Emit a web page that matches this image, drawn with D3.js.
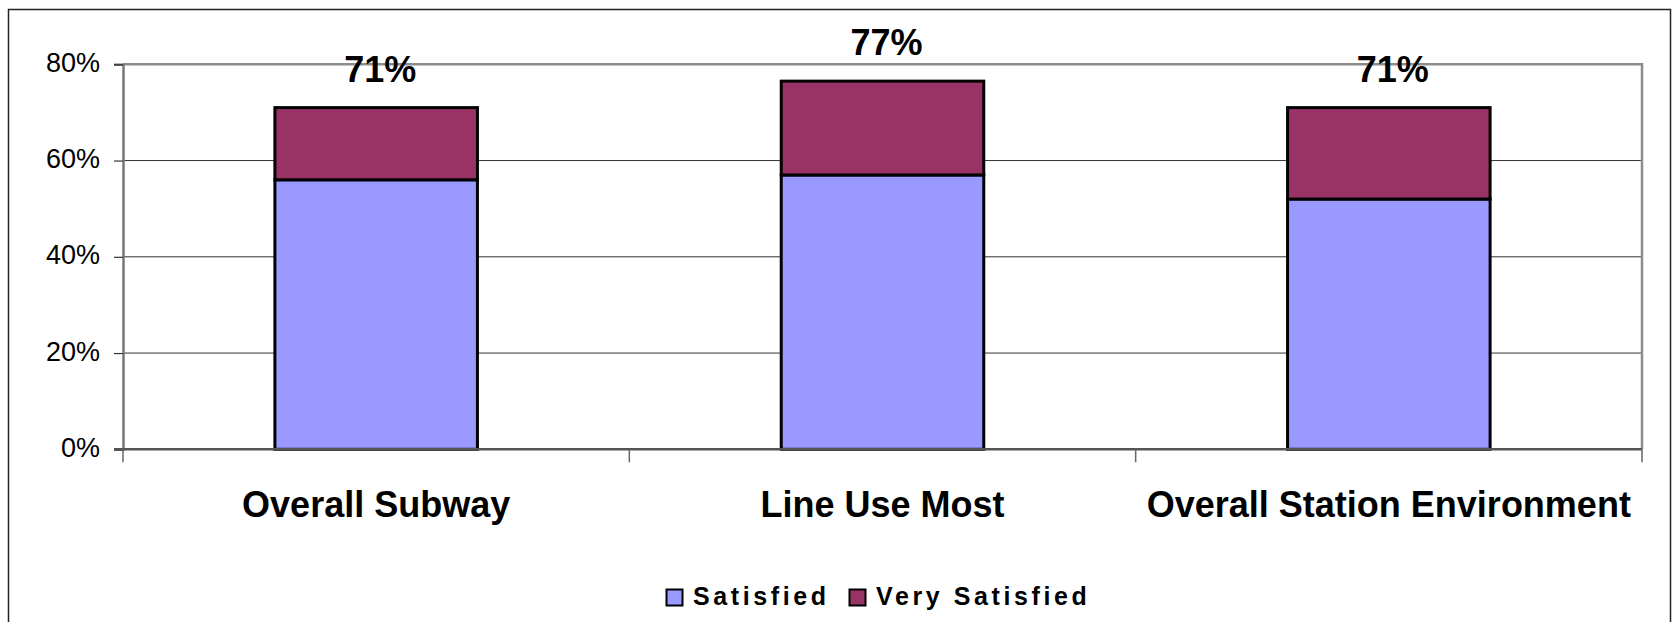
<!DOCTYPE html>
<html>
<head>
<meta charset="utf-8">
<script src="https://cdn.jsdelivr.net/npm/d3@7"></script>
<style>
  html, body { margin: 0; padding: 0; background: #fff; }
  svg { display: block; font-family: "Liberation Sans", Arial, sans-serif; }
</style>
</head>
<body>
<svg id="chart" width="1672" height="622"></svg>
<script>
// Survey results: share of riders satisfied / very satisfied (%)
const categories = ["Overall Subway", "Line Use Most", "Overall Station Environment"];
const satisfied = [56, 57, 52];
const verySatisfied = [15, 19.5, 19];
const yTicks = [0, 20, 40, 60, 80];
const seriesNames = ["Satisfied", "Very Satisfied"];
const seriesColors = ["#9999FF", "#993366"];

const svg = d3.select("#chart");

// outer chart frame (runs past the bottom edge)
svg.append("rect")
  .attr("x", 8.5).attr("y", 9.5)
  .attr("width", 1662).attr("height", 640)
  .attr("fill", "#fff").attr("stroke", "#222").attr("stroke-width", 1.5);

const plot = { left: 123, right: 1642, top: 64.3, bottom: 449.3 };

const x = d3.scaleBand()
  .domain(categories)
  .range([plot.left, plot.right])
  .paddingInner(0.6)
  .paddingOuter(0.3);

const y = d3.scaleLinear()
  .domain([0, 80])
  .range([plot.bottom, plot.top]);

// horizontal gridlines
svg.append("g")
  .selectAll("line")
  .data(yTicks.filter(d => d > 0 && d < 80))
  .join("line")
  .attr("x1", plot.left).attr("x2", plot.right)
  .attr("y1", d => y(d)).attr("y2", d => y(d))
  .attr("stroke", "#333").attr("stroke-width", 1);

// plot area border (top + right) in grey
svg.append("path")
  .attr("d", `M${plot.left},${y(80)}H${plot.right}V${plot.bottom}`)
  .attr("fill", "none").attr("stroke", "#8c8c8c").attr("stroke-width", 2.5);

// stacked bars
const stacks = categories.map((c, i) => ({
  cat: c,
  parts: [
    { key: 0, y0: 0, y1: satisfied[i] },
    { key: 1, y0: satisfied[i], y1: satisfied[i] + verySatisfied[i] }
  ],
  total: satisfied[i] + verySatisfied[i]
}));

const barG = svg.append("g");
stacks.forEach(s => {
  barG.selectAll(null)
    .data(s.parts)
    .join("rect")
    .attr("x", x(s.cat))
    .attr("width", x.bandwidth())
    .attr("y", d => y(d.y1))
    .attr("height", d => y(d.y0) - y(d.y1))
    .attr("fill", d => seriesColors[d.key])
    .attr("stroke", "#000")
    .attr("stroke-width", 3);
});

// y axis
const yAxis = d3.axisLeft(y)
  .tickValues(yTicks)
  .tickFormat(d => d + "%")
  .tickSize(9)
  .tickPadding(14);
const yG = svg.append("g")
  .attr("transform", `translate(${plot.left},0)`)
  .call(yAxis);
yG.select(".domain").attr("stroke", "#777").attr("stroke-width", 2.5);
yG.selectAll(".tick line").attr("stroke", "#333").attr("stroke-width", 1.2);
yG.selectAll(".tick text")
  .attr("fill", "#000")
  .attr("font-size", 27)
  .attr("dy", null)
  .attr("y", 7);

// x axis (category separators as ticks)
const xAxisLine = svg.append("g");
xAxisLine.append("line")
  .attr("x1", plot.left - 9).attr("x2", plot.right)
  .attr("y1", plot.bottom).attr("y2", plot.bottom)
  .attr("stroke", "#555").attr("stroke-width", 2.5);
const step = x.step();
const sepX = d3.range(categories.length + 1).map(i => plot.left + i * step);
xAxisLine.selectAll("line.sep")
  .data(sepX)
  .join("line")
  .attr("class", "sep")
  .attr("x1", d => d).attr("x2", d => d)
  .attr("y1", plot.bottom).attr("y2", plot.bottom + 13)
  .attr("stroke", "#666").attr("stroke-width", 1.5);

// category labels
svg.append("g")
  .selectAll("text")
  .data(categories)
  .join("text")
  .attr("x", d => x(d) + x.bandwidth() / 2)
  .attr("y", 517)
  .attr("text-anchor", "middle")
  .attr("font-size", 36)
  .attr("font-weight", "bold")
  .text(d => d);

// total labels above each bar
svg.append("g")
  .selectAll("text")
  .data(stacks)
  .join("text")
  .attr("x", d => x(d.cat) + x.bandwidth() / 2 + 4)
  .attr("y", d => y(d.total) - 26)
  .attr("text-anchor", "middle")
  .attr("font-size", 36)
  .attr("font-weight", "bold")
  .text(d => Math.round(d.total) + "%");

// legend
const legend = svg.append("g").attr("transform", "translate(666,589)");
const legendX = [0, 183];
seriesNames.forEach((name, i) => {
  const g = legend.append("g").attr("transform", `translate(${legendX[i]},0)`);
  g.append("rect")
    .attr("x", 0.5).attr("y", 0.5)
    .attr("width", 16).attr("height", 16)
    .attr("fill", seriesColors[i])
    .attr("stroke", "#000").attr("stroke-width", 2);
  g.append("text")
    .attr("x", 27).attr("y", 16)
    .attr("font-size", 25)
    .attr("font-weight", "bold")
    .attr("letter-spacing", 3.6)
    .text(name);
});
</script>
</body>
</html>
